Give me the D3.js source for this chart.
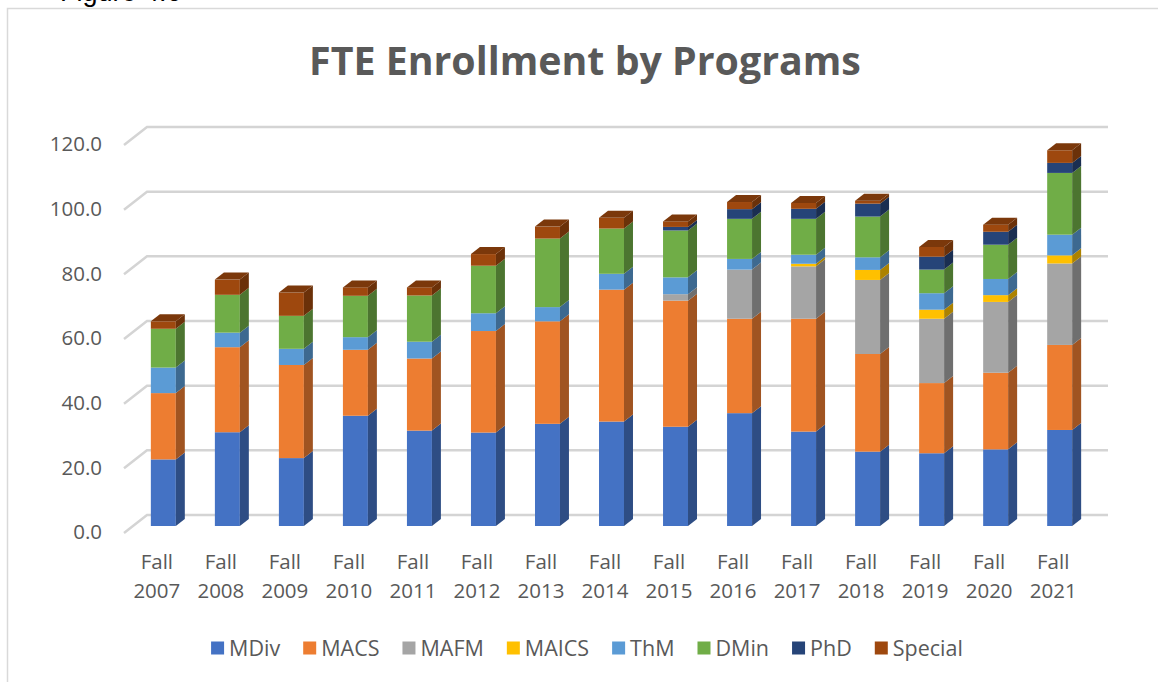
<!DOCTYPE html>
<html>
<head>
<meta charset="utf-8">
<script src="https://cdn.jsdelivr.net/npm/d3@7"></script>
<style>
  body { margin: 0; background: #fff; }
  svg { display: block; }
  text { font-family: "Open Sans", "Liberation Sans", sans-serif; fill: #595959; }
</style>
</head>
<body>
<svg></svg>
<script>
const width = 1158;
const height = 682;

// data
const categories = ["Fall 2007", "Fall 2008", "Fall 2009", "Fall 2010", "Fall 2011", "Fall 2012", "Fall 2013",
                    "Fall 2014", "Fall 2015", "Fall 2016", "Fall 2017", "Fall 2018", "Fall 2019", "Fall 2020", "Fall 2021"];
const seriesNames = ["MDiv", "MACS", "MAFM", "MAICS", "ThM", "DMin", "PhD", "Special"];
const seriesColors = ["#4472C4", "#ED7D31", "#A5A5A5", "#FFC000", "#5B9BD5", "#70AD47", "#264478", "#9E480E"];

const mdiv    = [20.6, 29.0, 21.0, 34.1, 29.5, 28.9, 31.6, 32.3, 30.7, 34.9, 29.2, 23.0, 22.5, 23.7, 29.7];
const macs    = [20.5, 26.3, 28.8, 20.4, 22.3, 31.4, 31.7, 40.8, 39.0, 29.2, 34.9, 30.2, 21.7, 23.7, 26.3];
const mafm    = [0, 0, 0, 0, 0, 0, 0, 0, 2.0, 15.2, 16.2, 22.9, 19.9, 21.9, 25.2];
const maics   = [0, 0, 0, 0, 0, 0, 0, 0, 0, 0, 0.8, 3.1, 2.8, 2.1, 2.5];
const thm     = [7.9, 4.5, 5.0, 3.9, 5.2, 5.5, 4.4, 4.9, 5.2, 3.3, 2.8, 3.9, 5.1, 5.0, 6.4];
const dmin    = [12.0, 11.7, 10.2, 12.8, 14.3, 14.7, 21.2, 14.0, 14.5, 12.4, 11.1, 12.6, 7.3, 10.6, 19.1];
const phd     = [0, 0, 0, 0, 0, 0, 0, 0, 1.1, 3.0, 3.1, 4.0, 4.0, 4.0, 3.1];
const special = [2.3, 4.7, 7.2, 2.6, 2.5, 3.6, 3.7, 3.3, 1.7, 2.2, 1.8, 0.9, 3.0, 2.2, 3.9];

const yTicks = [0, 20, 40, 60, 80, 100, 120];

const seriesValues = [mdiv, macs, mafm, maics, thm, dmin, phd, special];
const table = categories.map((c, i) => {
  const row = { cat: c };
  seriesNames.forEach((s, k) => row[s] = seriesValues[k][i]);
  return row;
});

const svg = d3.select("svg")
  .attr("width", width)
  .attr("height", height);

// chart frame (only left and top edges fall inside the picture)
svg.append("path")
  .attr("d", `M7.5,${height} V8.5 H${width}`)
  .attr("fill", "none")
  .attr("stroke", "#d9d9d9")
  .attr("stroke-width", 1.5);

// caption above the frame, cut by the top edge as in the source
svg.append("text")
  .attr("x", 60)
  .attr("y", 1)
  .style("font-family", "'Liberation Sans', Arial, sans-serif")
  .style("font-size", "27px")
  .style("fill", "#000")
  .text("Figure 4.6");

// 3d geometry: back wall offset and bar depth
const wallDx = 23, wallDy = -18;
const frontDy = 7;           // front edge sits below bar face plane
const barDx = 9, barDy = -7;

const xScale = d3.scaleBand()
  .domain(categories)
  .range([131, 1092])
  .paddingInner(0.61)
  .paddingOuter(0.31);

const yScale = d3.scaleLinear()
  .domain([0, 120])
  .range([526, 138]);

const axisX = 124;
const wallRight = 1108;

// gridlines on the back wall + diagonal on the side
const grid = svg.append("g");
yTicks.forEach(t => {
  const yf = yScale(t) + frontDy;
  const yb = yf + wallDy;
  grid.append("path")
    .attr("d", `M${axisX},${yf} L${axisX + wallDx},${yb} H${wallRight}`)
    .attr("fill", "none")
    .attr("stroke", "#d4d4d4")
    .attr("stroke-width", 2.5);
});

// y axis labels
svg.append("g")
  .selectAll("text")
  .data(yTicks)
  .join("text")
    .attr("x", 102)
    .attr("y", d => yScale(d) + frontDy - 1)
    .attr("dy", "0.35em")
    .attr("text-anchor", "end")
    .style("font-size", "20.5px")
    .text(d => d.toFixed(1));

// stacked 3d bars
const stacked = d3.stack().keys(seriesNames)(table);
const shade = (c, k) => d3.rgb(c).darker(k).formatHex();

const bw = xScale.bandwidth();
categories.forEach((c, i) => {
  const g = svg.append("g");
  const x0 = xScale(c);
  let topIdx = -1;
  stacked.forEach((layer, k) => { if (layer[i][1] - layer[i][0] > 0) topIdx = k; });
  stacked.forEach((layer, k) => {
    const v0 = layer[i][0], v1 = layer[i][1];
    if (v1 - v0 <= 0) return;
    const yTop = yScale(v1), yBot = yScale(v0);
    const col = seriesColors[k];
    g.append("rect")
      .attr("x", x0)
      .attr("y", yTop)
      .attr("width", bw)
      .attr("height", yBot - yTop)
      .attr("fill", col);
    g.append("path")
      .attr("d", `M${x0 + bw},${yTop} L${x0 + bw + barDx},${yTop + barDy} L${x0 + bw + barDx},${yBot + barDy} L${x0 + bw},${yBot} Z`)
      .attr("fill", shade(col, 1.1));
    if (k === topIdx) {
      g.append("path")
        .attr("d", `M${x0},${yTop} L${x0 + barDx},${yTop + barDy} L${x0 + bw + barDx},${yTop + barDy} L${x0 + bw},${yTop} Z`)
        .attr("fill", shade(col, 0.7));
    }
  });
});

// category labels, two lines each
const catLabels = svg.append("g")
  .selectAll("text")
  .data(categories)
  .join("text")
    .attr("x", d => xScale(d) + bw / 2 - 6.5)
    .attr("y", 569)
    .attr("text-anchor", "middle")
    .style("font-size", "20.5px");
catLabels.each(function(d) {
  const parts = d.split(" ");
  const t = d3.select(this);
  t.append("tspan").attr("x", t.attr("x")).text(parts[0]);
  t.append("tspan").attr("x", t.attr("x")).attr("dy", 29).text(parts[1]);
});

// title
const title = svg.append("text")
  .attr("x", 585)
  .attr("y", 75)
  .attr("text-anchor", "middle")
  .style("font-size", "36px")
  .style("font-weight", "bold")
  .text("FTE Enrollment by Programs");
const tw = title.node().getComputedTextLength();
title.style("font-size", (36 * 552 / tw) + "px");

// legend
const legend = svg.append("g");
let lx = 0;
const itemGap = 23;
seriesNames.forEach((s, k) => {
  const item = legend.append("g").attr("transform", `translate(${lx},0)`);
  item.append("rect")
    .attr("x", 0).attr("y", -6.5)
    .attr("width", 13).attr("height", 13)
    .attr("fill", seriesColors[k]);
  const t = item.append("text")
    .attr("x", 18)
    .attr("y", 0)
    .attr("dy", "0.35em")
    .style("font-size", "21.5px")
    .text(s);
  lx += 18 + t.node().getComputedTextLength() + itemGap;
});
const legendWidth = lx - itemGap;
legend.attr("transform", `translate(${587 - legendWidth / 2},648)`);
</script>
</body>
</html>
